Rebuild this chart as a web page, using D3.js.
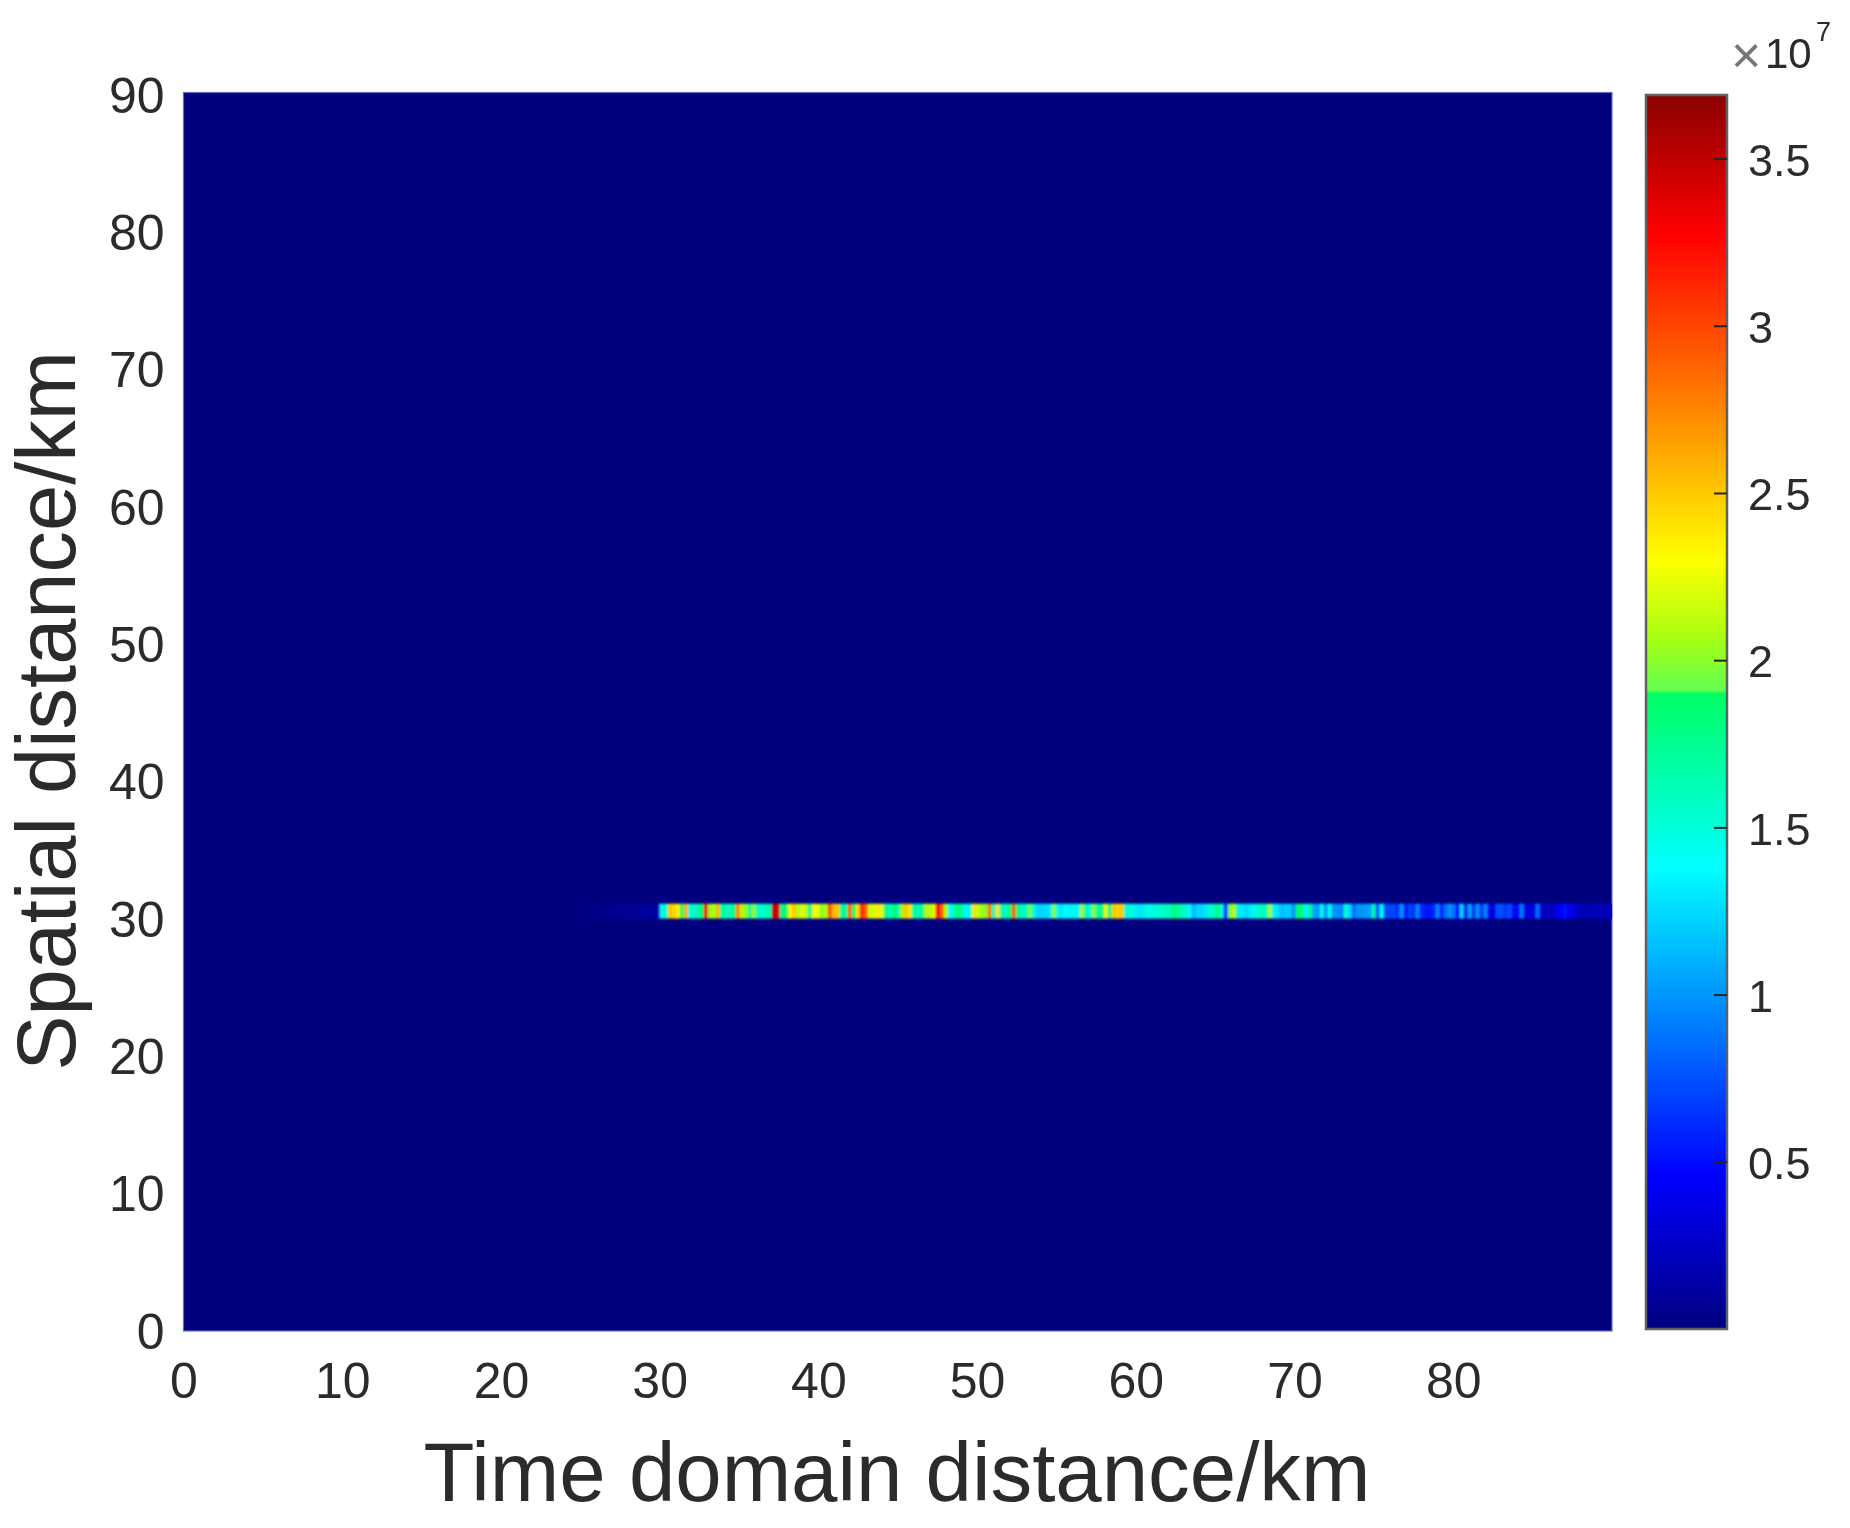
<!DOCTYPE html>
<html>
<head>
<meta charset="utf-8">
<script src="https://cdn.jsdelivr.net/npm/d3@7"></script>
<style>
    html, body { margin: 0; padding: 0; background: #fff; }
    svg { display: block; filter: blur(0.6px); }
    text { font-family: "Liberation Sans", Arial, sans-serif; fill: #2b2b2b; }
    .axis path, .axis line { stroke: none; }
    .cbar-axis line { stroke: #262626; stroke-width: 2; }
</style>
</head>
<body>
<div class="heatmap"></div>
<script>
// axis ticks
const xTicks = [0, 10, 20, 30, 40, 50, 60, 70, 80];
const yTicks = [0, 10, 20, 30, 40, 50, 60, 70, 80, 90];
const cbarTicks = [0.5, 1, 1.5, 2, 2.5, 3, 3.5];

// data ranges, km and units of 1e7
const xMax = 90;
const yMax = 90;
const cbarMin = 0;
const cbarMax = 3.69;

// colormap
const colorValues = [0, 0.46, 0.92, 1.38, 1.9, 1.91, 2.06, 2.3, 2.77, 3.27, 3.69];
const colorList = ["#00007f", "#0000ff", "#0080ff", "#00ffff", "#00ff64", "#64ff50", "#a5ff14", "#ffff00", "#ff8000", "#ff0000", "#8b0000"];

// the row with the echo, km
const stripY0 = 29.97;
const stripY1 = 31.05;
const cellKm = 0.252;

// faint tail before the target starts
const leadStart = 24.96;
const leadValues = [0.02, 0.02, 0.03, 0.03, 0.04, 0.04, 0.05, 0.05, 0.06, 0.06, 0.07, 0.07, 0.08, 0.08, 0.09, 0.09, 0.1, 0.1, 0.11, 0.12];

// strip values in 1e7, one per cell, left to right
const stripStart = 30;
const stripA = [1.4, 1.6, 2.5, 2.45, 2.35, 1.9, 2.6, 1.5, 1.55, 1.65, 1.85, 3.3, 2.0, 2.1, 2.55, 1.75, 1.6, 1.6, 1.75, 2.75,
    2.1, 2.05, 1.7, 2.0, 1.55, 1.55, 1.6, 1.65, 3.5, 3.4, 1.75, 1.9, 2.3, 2.5, 2.1, 2.2, 2.15, 1.8, 2.3, 2.25,
    2.0, 2.1, 2.95, 2.55, 2.5, 1.7, 1.7, 2.9, 1.9, 2.4, 3.1, 2.9, 2.15, 2.2, 2.35, 2.2, 1.75, 1.6, 1.85, 1.7,
    2.05, 2.5, 2.4, 1.7, 1.6, 1.75, 2.1, 2.1, 2.25, 3.3, 2.9, 2.1, 1.4, 1.55, 1.9];
const stripB = [1.7, 1.35, 1.5, 2.4, 2.15, 2.05, 2.0, 2.8, 1.6, 2.4, 1.65, 1.55, 1.85, 2.9, 1.8, 1.55, 1.6, 1.95, 1.5, 1.25,
    1.25, 1.25, 1.3, 2.0, 1.45, 1.3, 1.4, 1.35, 1.45, 1.35, 2.05, 1.6, 1.5, 2.0, 1.7, 1.8, 2.25, 1.8, 2.5, 2.45,
    2.5, 1.5, 1.45, 1.5, 1.3, 1.3, 1.55, 1.4, 1.5, 1.5, 1.55, 1.6, 1.6, 1.85, 1.7, 1.6, 1.55, 1.4, 1.1, 1.25,
    1.25, 1.3, 1.55, 1.6, 1.8, 1.45, 0.6, 1.95, 2.1, 1.5, 1.3, 1.25, 1.3, 1.45, 1.55, 1.6, 1.6, 2.05, 1.35, 1.3];
const stripC = [1.15, 1.2, 1.2, 1.0, 1.9, 1.8, 1.35, 1.7, 1.1, 1.0, 1.45, 1.0, 1.45, 1.0, 1.0, 0.95, 1.5, 1.25, 0.85, 1.0,
    1.0, 1.05, 1.05, 1.7, 0.8, 1.4, 0.75, 0.7, 0.7, 0.65, 1.0, 0.5, 0.7, 0.65, 0.95, 0.6, 0.55, 0.55, 0.6, 0.95,
    0.6, 0.85, 1.0, 0.9, 0.5, 1.25, 0.45, 1.05, 0.65, 1.0, 0.65, 0.95, 0.35, 0.4, 0.75, 0.75, 0.65, 0.75, 0.5, 0.45,
    0.9, 0.4, 0.3, 0.35, 0.85, 0.3, 0.25, 0.22, 0.25, 0.4, 0.48, 0.5, 0.45, 0.3, 0.25, 0.22, 0.2, 0.2, 0.2, 0.22,
    0.22, 0.2, 0.25, 0.2];

Heatmap(".heatmap");

function Heatmap(container) {

    const width = 1850,
    height = 1528;

    const margin = ({top: 92.5, left: 183.5, right: 1612, bottom: 1331});
    const cbar = ({left: 1646, right: 1727, top: 95, bottom: 1329});

    const svg = d3.select(container)
        .append("svg")
        .attr("width", width)
        .attr("height", height);

    // scales
    const xScale = d3.scaleLinear()
        .domain([0, xMax])
        .range([margin.left, margin.right]);

    const yScale = d3.scaleLinear()
        .domain([0, yMax])
        .range([margin.bottom, margin.top]);

    // labels of the y axis sit a little lower than the plot top in the source
    const yLabelScale = d3.scaleLinear()
        .domain([0, yMax])
        .range([margin.bottom + 1, 96]);

    const colorScale = d3.scaleLinear()
        .domain(colorValues)
        .range(colorList)
        .clamp(true);

    const cbarScale = d3.scaleLinear()
        .domain([cbarMin, cbarMax])
        .range([cbar.bottom, cbar.top]);

    const defs = svg.append("defs");

    defs.append("clipPath")
        .attr("id", "plot-clip")
        .append("rect")
        .attr("x", margin.left)
        .attr("y", margin.top)
        .attr("width", margin.right - margin.left)
        .attr("height", margin.bottom - margin.top);

    // the source picture is soft, so the strip gets a small blur
    defs.append("filter")
        .attr("id", "soft")
        .attr("x", "-5%")
        .attr("y", "-100%")
        .attr("width", "110%")
        .attr("height", "300%")
        .append("feGaussianBlur")
        .attr("stdDeviation", 1.1);

    const gradient = defs.append("linearGradient")
        .attr("id", "jet")
        .attr("gradientUnits", "userSpaceOnUse")
        .attr("x1", 0)
        .attr("x2", 0)
        .attr("y1", cbarScale(cbarMin))
        .attr("y2", cbarScale(cbarMax));

    gradient.selectAll("stop")
        .data(colorValues)
        .join("stop")
        .attr("offset", d => (d - cbarMin) / (cbarMax - cbarMin))
        .attr("stop-color", d => colorScale(d));

    // background of the map, everything is near zero
    svg.append("rect")
        .attr("x", margin.left)
        .attr("y", margin.top)
        .attr("width", margin.right - margin.left)
        .attr("height", margin.bottom - margin.top)
        .attr("fill", colorList[0])
        .attr("stroke", "#6a6ac0")
        .attr("stroke-width", 1.2);

    const leadCells = leadValues.map((v, i) => ({x: leadStart + i * cellKm, v: v}));
    const stripCells = stripA.concat(stripB, stripC)
        .map((v, i) => ({x: stripStart + i * cellKm, v: v}));

    svg.append("g")
        .attr("clip-path", "url(#plot-clip)")
        .append("g")
        .attr("filter", "url(#soft)")
        .selectAll("rect")
        .data(leadCells.concat(stripCells))
        .join("rect")
        .attr("x", d => xScale(d.x))
        .attr("y", yScale(stripY1))
        .attr("width", d => xScale(d.x + cellKm) - xScale(d.x) + 0.3)
        .attr("height", yScale(stripY0) - yScale(stripY1))
        .attr("fill", d => colorScale(d.v));

    // axes
    const xAxis = d3.axisBottom(xScale)
        .tickValues(xTicks)
        .tickSize(0)
        .tickPadding(31);

    const yAxis = d3.axisLeft(yLabelScale)
        .tickValues(yTicks)
        .tickSize(0)
        .tickPadding(19);

    const xAxisGroup = svg.append("g")
        .attr("class", "axis x-axis")
        .attr("transform", "translate(0," + margin.bottom + ")")
        .call(xAxis);

    const yAxisGroup = svg.append("g")
        .attr("class", "axis y-axis")
        .attr("transform", "translate(" + margin.left + ",0)")
        .call(yAxis);

    svg.selectAll(".axis text")
        .attr("font-size", 50)
        .style("font-family", "'Liberation Sans', Arial, sans-serif")
        .style("fill", "#2b2b2b");

    // colorbar
    svg.append("rect")
        .attr("x", cbar.left)
        .attr("y", cbar.top)
        .attr("width", cbar.right - cbar.left)
        .attr("height", cbar.bottom - cbar.top)
        .attr("fill", "url(#jet)")
        .attr("stroke", "#5a6468")
        .attr("stroke-width", 2.5);

    const cbarAxis = d3.axisRight(cbarScale)
        .tickValues(cbarTicks)
        .tickFormat(d3.format("~g"))
        .tickSize(-13)
        .tickPadding(21);

    const cbarGroup = svg.append("g")
        .attr("class", "cbar-axis")
        .attr("transform", "translate(" + cbar.right + ",0)")
        .call(cbarAxis);

    cbarGroup.select("path").attr("stroke", "none");

    cbarGroup.selectAll("text")
        .attr("font-size", 45)
        .attr("dy", "0.37em")
        .style("font-family", "'Liberation Sans', Arial, sans-serif")
        .style("fill", "#2b2b2b");

    // exponent above the colorbar
    svg.append("text")
        .attr("x", 1731)
        .attr("y", 73)
        .attr("font-size", 52)
        .style("fill", "#777")
        .text("\u00d7");

    svg.append("text")
        .attr("x", 1765)
        .attr("y", 68)
        .attr("font-size", 42)
        .text("10");

    svg.append("text")
        .attr("x", 1816)
        .attr("y", 41)
        .attr("font-size", 27)
        .text("7");

    // adding labels
    svg.append("text")
        .attr("x", 897)
        .attr("y", 1501)
        .attr("text-anchor", "middle")
        .attr("font-size", 83.4)
        .text("Time domain distance/km");

    svg.append("text")
        .attr("transform", "translate(75,711) rotate(-90)")
        .attr("text-anchor", "middle")
        .attr("font-size", 83)
        .text("Spatial distance/km");
}
</script>
</body>
</html>
